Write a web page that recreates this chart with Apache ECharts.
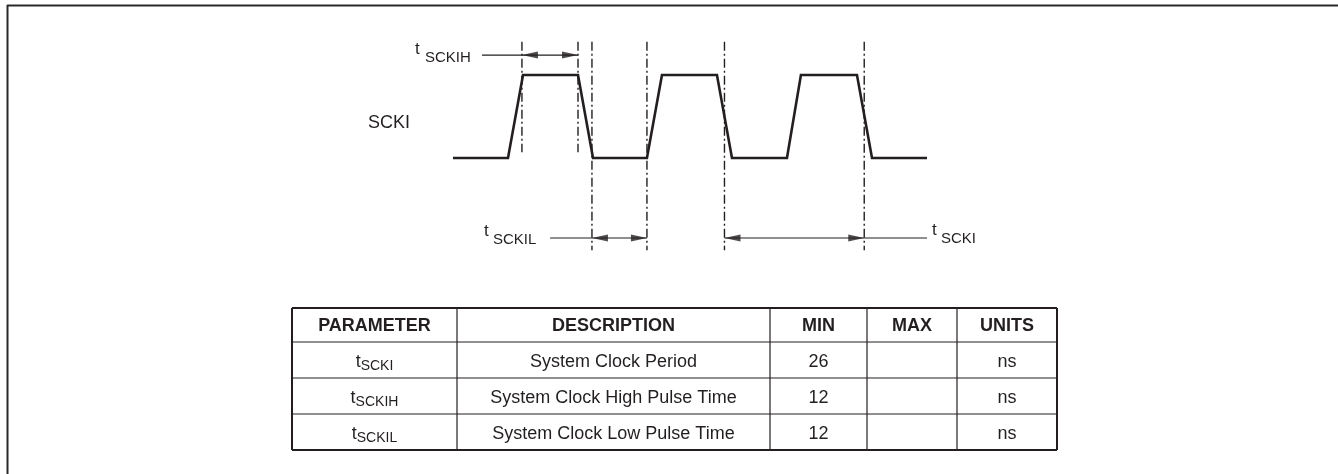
<!DOCTYPE html>
<html><head><meta charset="utf-8">
<script src="https://cdn.jsdelivr.net/npm/echarts@6/dist/echarts.min.js"></script>
<style>html,body{margin:0;padding:0;background:#fff}#c{width:1338px;height:474px}</style>
</head><body><div id="c"></div>
<script>
// ---- timing data (ns) ----
const waveTime  = [0, 10.25, 13.05, 23.3, 26.1, 36.15, 38.95, 49.2, 52.0, 62.25, 64.85, 75.3, 78.1, 88.35];
const waveLevel = [0, 0, 1, 1, 0, 0, 1, 1, 0, 0, 1, 1, 0, 0];
const markTimes = [12.85, 23.3, 25.9, 36.15, 50.6, 76.65];
const markLong  = [false, false, true, true, true, true];
const arrowNames = ['SCKIH', 'SCKIL', 'SCKI'];
const arrowFrom  = [12.85, 25.9, 50.6];
const arrowTo    = [23.3, 36.15, 76.65];
const leaderFrom = [5.4, 18.1, 76.65];
const leaderTo   = [12.85, 25.9, 88.35];
const signalName = 'SCKI';
// ---- table data ----
const tableHeaders = ['PARAMETER', 'DESCRIPTION', 'MIN', 'MAX', 'UNITS'];
const paramSubs    = ['SCKI', 'SCKIH', 'SCKIL'];
const descriptions = ['System Clock Period', 'System Clock High Pulse Time', 'System Clock Low Pulse Time'];
const minValues    = ['26', '12', '12'];
const maxValues    = ['', '', ''];
const unitValues   = ['ns', 'ns', 'ns'];

// ---- layout / style ----
const INK = '#231f20';
const FONT = "'Liberation Sans', Arial, Helvetica, sans-serif";
const arrowLevel = [1.24, -0.964, -0.964];
const markTop = 1.4, markShortBottom = 0.07, markLongBottom = -1.11;
const colX = [292, 457, 770, 867, 957, 1057];
const rowY = [308, 342, 378, 414, 450];

const cv = document.createElement('canvas').getContext('2d');
function tw(text, size, weight) { cv.font = (weight || 'normal') + ' ' + size + 'px ' + FONT; return cv.measureText(text).width; }

const series = [];
series.push({
  type: 'line', data: waveTime.map((t, i) => [t, waveLevel[i]]), symbol: 'none',
  lineStyle: { color: INK, width: 2.6, join: 'miter' }, clip: false, animation: false, z: 5
});
markTimes.forEach((t, i) => {
  series.push({
    type: 'line', data: [[t, markTop], [t, markLong[i] ? markLongBottom : markShortBottom]], symbol: 'none',
    lineStyle: { color: INK, width: 1.4, type: [9, 3, 2, 3] }, clip: false, animation: false, z: 3
  });
});
arrowNames.forEach((n, i) => {
  series.push({
    type: 'line', data: [[arrowFrom[i], arrowLevel[i]], [arrowTo[i], arrowLevel[i]]], symbol: 'none',
    lineStyle: { color: INK, width: 1.2 }, clip: false, animation: false
  });
  series.push({
    type: 'line', data: [[leaderFrom[i], arrowLevel[i]], [leaderTo[i], arrowLevel[i]]], symbol: 'none',
    lineStyle: { color: INK, width: 1.2 }, clip: false, animation: false
  });
});
series.push({
  type: 'scatter', data: arrowNames.map((n, i) => [arrowTo[i], arrowLevel[i]]),
  symbol: 'path://M0,0L16,3.5L0,7Z', symbolSize: [16, 7], symbolOffset: [-8, 0],
  itemStyle: { color: INK }, clip: false, animation: false, z: 6
});
series.push({
  type: 'scatter', data: arrowNames.map((n, i) => [arrowFrom[i], arrowLevel[i]]),
  symbol: 'path://M16,0L0,3.5L16,7Z', symbolSize: [16, 7], symbolOffset: [8, 0],
  itemStyle: { color: INK }, clip: false, animation: false, z: 6
});

// ---- graphic: frame, labels, table ----
const g = [];
g.push({ type: 'line', shape: { x1: 7, y1: 5.5, x2: 1338, y2: 5.5 }, style: { stroke: '#2a2a2a', lineWidth: 2 } });
g.push({ type: 'line', shape: { x1: 7.5, y1: 5, x2: 7.5, y2: 474 }, style: { stroke: '#2a2a2a', lineWidth: 2 } });
function txt(x, y, text, size, opts) {
  opts = opts || {};
  g.push({ type: 'text', x: x, y: y, z: 10, style: {
    text: text, fontSize: size, fontFamily: FONT, fontWeight: opts.weight || 'normal',
    fill: INK, align: opts.align || 'left', verticalAlign: 'middle' } });
}
// signal label
txt(410, 123, signalName, 18, { align: 'right' });
// timing labels
txt(415, 49, 't', 17); txt(425, 58, arrowNames[0], 15);
txt(484, 231, 't', 17); txt(493, 240, arrowNames[1], 15);
txt(932, 230, 't', 17); txt(941, 239, arrowNames[2], 15);

// table lines
rowY.forEach((y, i) => {
  const outer = i === 0 || i === rowY.length - 1;
  g.push({ type: 'line', shape: { x1: colX[0], y1: y, x2: colX[colX.length - 1], y2: y },
    style: { stroke: INK, lineWidth: outer ? 2 : 1.2 } });
});
colX.forEach((x, i) => {
  const outer = i === 0 || i === colX.length - 1;
  g.push({ type: 'line', shape: { x1: x, y1: rowY[0], x2: x, y2: rowY[rowY.length - 1] },
    style: { stroke: INK, lineWidth: outer ? 2 : 1.2 } });
});
const colC = colX.slice(0, -1).map((x, i) => (x + colX[i + 1]) / 2);
const rowC = rowY.slice(0, -1).map((y, i) => (y + rowY[i + 1]) / 2);
tableHeaders.forEach((h, i) => txt(colC[i], rowC[0] + 1, h, 18, { align: 'center', weight: 'bold' }));
paramSubs.forEach((s, r) => {
  const y = rowC[r + 1];
  const w1 = tw('t', 18), w2 = tw(s, 14);
  const x0 = colC[0] - (w1 + w2) / 2;
  txt(x0, y + 2.5, 't', 18);
  txt(x0 + w1, y + 6, s, 14);
  txt(colC[1], y + 2.5, descriptions[r], 18, { align: 'center' });
  txt(colC[2], y + 2.5, minValues[r], 18, { align: 'center' });
  txt(colC[3], y + 2.5, maxValues[r], 18, { align: 'center' });
  txt(colC[4], y + 2.5, unitValues[r], 18, { align: 'center' });
});

const chart = echarts.init(document.getElementById('c'), null, { renderer: 'canvas' });
chart.setOption({
  animation: false,
  backgroundColor: '#fff',
  grid: { left: 453, width: 474, top: 33.5, height: 228.25 },
  xAxis: { type: 'value', min: 0, max: 88.35, show: false },
  yAxis: { type: 'value', min: -1.25, max: 1.5, show: false },
  series: series,
  graphic: g
});
</script></body></html>
